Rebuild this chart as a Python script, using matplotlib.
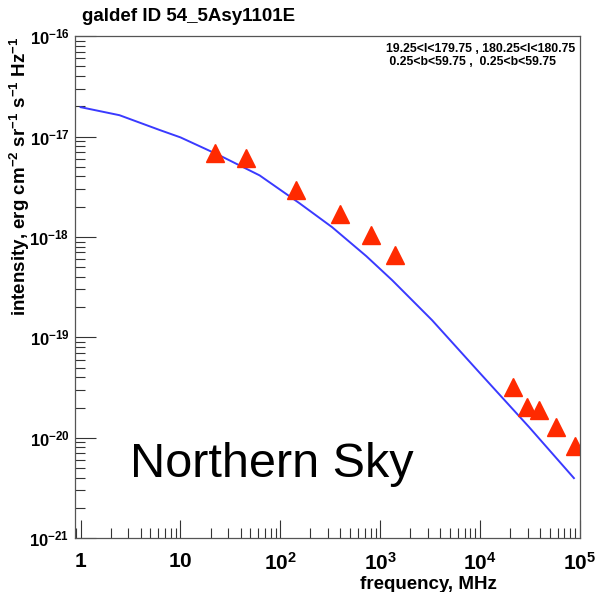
import numpy as np
import matplotlib
matplotlib.use("Agg")
import matplotlib.pyplot as plt
from matplotlib.ticker import LogLocator, FixedLocator, NullFormatter

plt.rcParams['font.family'] = ['Liberation Sans', 'DejaVu Sans']
plt.rcParams['mathtext.fontset'] = 'custom'
plt.rcParams['mathtext.rm'] = 'Liberation Sans:bold'
plt.rcParams['mathtext.it'] = 'Liberation Sans:bold'
plt.rcParams['mathtext.bf'] = 'Liberation Sans:bold'
plt.rcParams['mathtext.default'] = 'rm'

# survey data points (MHz, erg cm^-2 sr^-1 s^-1 Hz^-1)
data_freq = [22, 45, 145, 400, 800, 1400, 21400, 29500, 38900, 57500, 89100]
data_int = [6.8e-18, 6.1e-18, 2.9e-18, 1.69e-18, 1.05e-18, 6.6e-19,
            3.2e-20, 2.02e-20, 1.88e-20, 1.28e-20, 8.2e-21]

# model curve
model_freq = [1.0, 2.45, 6.2, 10.0, 24.5, 62, 155, 330, 725, 1320, 3310, 9770, 30900, 87100]
model_int = [1.96e-17, 1.63e-17, 1.16e-17, 9.8e-18, 6.5e-18, 4.1e-18, 2.17e-18, 1.25e-18,
             6.44e-19, 3.7e-19, 1.48e-19, 4.5e-20, 1.28e-20, 3.96e-21]

xticks = [1, 10, 1e2, 1e3, 1e4, 1e5]
xtick_labels = [r'$1$', r'$10$', r'$10^{2}$', r'$10^{3}$', r'$10^{4}$', r'$10^{5}$']
yticks = [1e-21, 1e-20, 1e-19, 1e-18, 1e-17, 1e-16]
ytick_labels = [r'$10^{-21}$', r'$10^{-20}$', r'$10^{-19}$', r'$10^{-18}$', r'$10^{-17}$', r'$10^{-16}$']

fig = plt.figure(figsize=(5.96, 5.92), dpi=100)
ax = fig.add_axes([0.126, 0.091, 0.847, 0.848])

ax.plot(model_freq, model_int, '-', color='#3a3aff', lw=1.4)
ax.plot(data_freq, data_int, '^', color='#ff2a00', ms=13, mec='#ff2a00')

ax.set_xscale('log')
ax.set_yscale('log')
ax.set_xlim(0.88, 1e5)
ax.set_ylim(1e-21, 1e-16)

ax.xaxis.set_major_locator(FixedLocator(xticks))
ax.set_xticklabels(xtick_labels)
ax.yaxis.set_major_locator(FixedLocator(yticks))
ax.set_yticklabels(ytick_labels)
ax.xaxis.set_minor_locator(LogLocator(base=10, subs=np.arange(2, 10)))
ax.yaxis.set_minor_locator(LogLocator(base=10, subs=np.arange(2, 10)))
ax.xaxis.set_minor_formatter(NullFormatter())
ax.yaxis.set_minor_formatter(NullFormatter())

ax.tick_params(axis='both', which='both', direction='in', color='#333333', width=0.8)
ax.tick_params(axis='x', which='major', length=13, labelsize=15, pad=10)
ax.tick_params(axis='x', which='minor', length=7)
ax.tick_params(axis='y', which='major', length=15, labelsize=12, pad=4)
ax.tick_params(axis='y', which='minor', length=7)
for s in ax.spines.values():
    s.set_color('#555555')
    s.set_linewidth(0.9)

ax.set_xlabel('frequency, MHz', fontsize=13.5, fontweight='bold', ha='right')
ax.xaxis.set_label_coords(0.836, -0.075)
ax.set_ylabel(r'intensity, erg cm$^{-2}$ sr$^{-1}$ s$^{-1}$ Hz$^{-1}$', fontsize=13.5,
              fontweight='bold', loc='top')
ax.yaxis.set_label_coords(-0.085, 1.0)

fig.text(0.138, 0.972, 'galdef ID 54_5Asy1101E', fontsize=13.5, fontweight='bold',
         ha='left', va='center')
fig.text(0.648, 0.918, '19.25<l<179.75 , 180.25<l<180.75', fontsize=8.8,
         fontweight='bold', ha='left', va='center')
fig.text(0.648, 0.895, ' 0.25<b<59.75 ,  0.25<b<59.75', fontsize=8.8,
         fontweight='bold', ha='left', va='center')
fig.text(0.218, 0.215, 'Northern Sky', fontsize=35, ha='left', va='center')

fig.savefig('out.png', dpi=100)
